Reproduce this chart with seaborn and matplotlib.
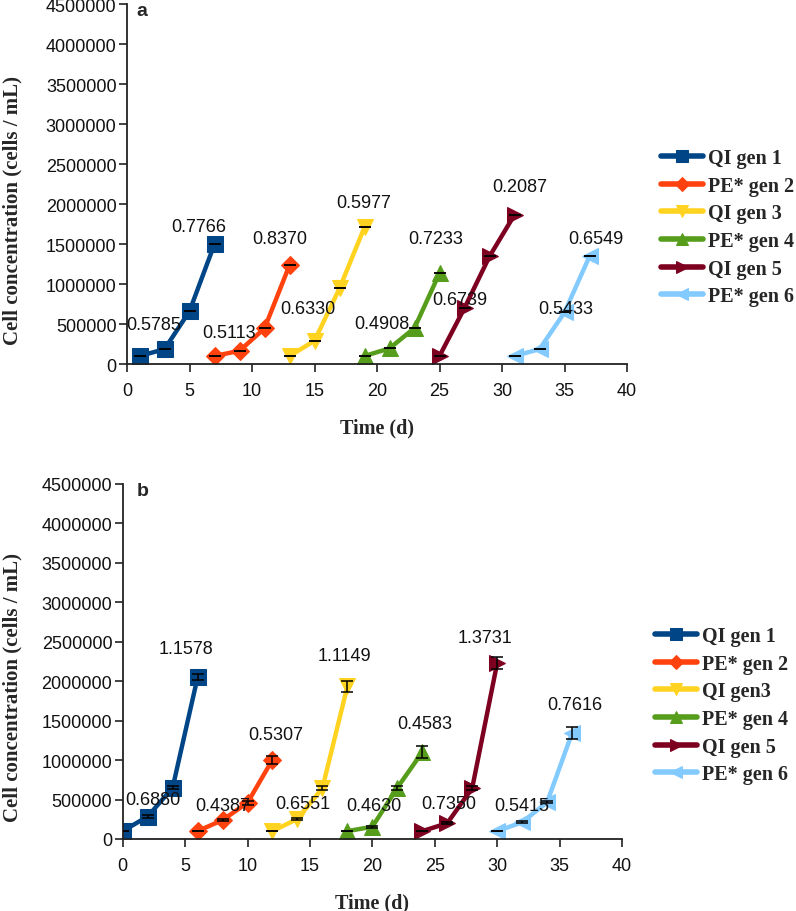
import matplotlib
matplotlib.use("Agg")
import matplotlib.pyplot as plt
import seaborn as sns
import numpy as np
import pandas as pd
from matplotlib.ticker import FuncFormatter, MultipleLocator

sns.set_theme(style="ticks")
plt.rcParams['font.family'] = ['Liberation Sans', 'DejaVu Sans']

# ---------------- data ----------------
colors = ["#004586", "#ff420e", "#ffd320", "#579d1c", "#7e0021", "#83caff"]
markers = ["s", "D", "v", "^", ">", "<"]
marker_sizes = [11, 9, 11, 11, 11, 11]

names_a = ["QI gen 1", "PE* gen 2", "QI gen 3", "PE* gen 4", "QI gen 5", "PE* gen 6"]
days_a = [[1, 3, 5, 7], [7, 9, 11, 13], [13, 15, 17, 19],
          [19, 21, 23, 25], [25, 27, 29, 31], [31, 33, 35, 37]]
conc_a = [[100000, 185000, 660000, 1500000],
          [100000, 165000, 445000, 1235000],
          [100000, 290000, 945000, 1710000],
          [100000, 195000, 450000, 1135000],
          [100000, 700000, 1345000, 1865000],
          [100000, 185000, 645000, 1345000]]
err_a = [[0, 0, 0, 0]] * 6
rates_a = ["0.5785", "0.7766", "0.5113", "0.8370", "0.6330", "0.5977",
           "0.4908", "0.7233", "0.6739", "0.2087", "0.5433", "0.6549"]
rate_x_a = [2.1, 5.7, 8.2, 12.2, 14.5, 18.9, 20.4, 24.7, 26.6, 31.4, 35.1, 37.5]
rate_y_a = [500000, 1725000, 400000, 1575000, 690000, 2025000,
            510000, 1575000, 810000, 2225000, 700000, 1575000]

names_b = ["QI gen 1", "PE* gen 2", "QI gen3", "PE* gen 4", "QI gen 5", "PE* gen 6"]
days_b = [[0, 2, 4, 6], [6, 8, 10, 12], [12, 14, 16, 18],
          [18, 20, 22, 24], [24, 26, 28, 30], [30, 32, 34, 36]]
conc_b = [[100000, 285000, 650000, 2050000],
          [100000, 240000, 460000, 1005000],
          [100000, 255000, 645000, 1935000],
          [100000, 155000, 650000, 1100000],
          [100000, 200000, 645000, 2230000],
          [100000, 212000, 466000, 1343000]]
err_b = [[0, 15000, 22000, 40000],
         [0, 15000, 25000, 48000],
         [0, 15000, 30000, 68000],
         [0, 15000, 25000, 76000],
         [0, 10000, 30000, 78000],
         [0, 10000, 15000, 74000]]
rates_b = ["0.6880", "1.1578", "0.4387", "0.5307", "0.6551", "1.1149",
           "0.4630", "0.4583", "0.7350", "1.3731", "0.5415", "0.7616"]
rate_x_b = [2.4, 5.1, 8.0, 12.3, 14.4, 17.8, 20.1, 24.2, 26.1, 29.0, 32.0, 36.2]
rate_y_b = [495000, 2410000, 420000, 1330000, 445000, 2320000,
            420000, 1470000, 455000, 2550000, 420000, 1700000]

# ---------------- figure ----------------
W, H = 796, 912
fig = plt.figure(figsize=(W / 100, H / 100), dpi=100)
ax_a = fig.add_axes([127 / W, 1 - 365 / H, 500 / W, 360 / H])
ax_b = fig.add_axes([122.7 / W, 1 - 840 / H, 499.3 / W, 355 / H])

serif = ['Liberation Serif', 'DejaVu Serif']


def draw(ax, names, days, conc, err, rates, rx, ry, letter, letter_x, leg_xy):
    ax_w_px = ax.get_position().width * W
    ax_h_px = ax.get_position().height * H
    for i, name in enumerate(names):
        df = pd.DataFrame({"day": days[i], "conc": conc[i]})
        sns.lineplot(data=df, x="day", y="conc", ax=ax, color=colors[i],
                     marker=markers[i], markersize=marker_sizes[i], linewidth=3.2,
                     markeredgecolor=colors[i], label=name, sort=False)
        ax.errorbar(days[i], conc[i], yerr=err[i], fmt='none', ecolor='black',
                    elinewidth=1.1, capsize=4, capthick=1.1, zorder=5)
    for t, x, y in zip(rates, rx, ry):
        ax.text(x, y, t, ha='center', va='center', fontsize=13, color='#111111', zorder=6)
    ax.set_xlim(0, 40)
    ax.set_ylim(0, 4500000)
    ax.xaxis.set_major_locator(MultipleLocator(5))
    ax.yaxis.set_major_locator(MultipleLocator(500000))
    ax.yaxis.set_major_formatter(FuncFormatter(lambda v, p: f"{int(round(v))}"))
    ax.tick_params(axis='both', labelsize=13, direction='out', length=6, width=1.2,
                   colors='#222222', labelcolor='#111111')
    ax.tick_params(axis='x', pad=7)
    ax.tick_params(axis='y', pad=1.5)
    for s in ['top', 'right']:
        ax.spines[s].set_visible(False)
    for s in ['left', 'bottom']:
        ax.spines[s].set_color('#222222')
        ax.spines[s].set_linewidth(1.3)
    ax.set_xlabel("Time (d)", fontsize=14.5, family=serif, weight='bold')
    ax.xaxis.set_label_coords(0.5, -63 / ax_h_px)
    ax.xaxis.label.set_va('center')
    ax.set_ylabel("Cell concentration (cells / mL)", fontsize=15, family=serif, weight='bold')
    ax.yaxis.set_label_coords(-(ax.get_position().x0 * W - 12) / ax_w_px, 0.43)
    ax.yaxis.label.set_va('center')
    ax.yaxis.label.set_ha('center')
    ax.text(letter_x, 0.983, letter, transform=ax.transAxes, fontsize=14, fontweight='bold',
            ha='left', va='center')
    h, l = ax.get_legend_handles_labels()
    leg = ax.legend(h, l, loc='upper left', bbox_to_anchor=leg_xy,
                    bbox_transform=fig.transFigure, frameon=False,
                    prop=dict(family=serif, weight='bold', size=14.5),
                    handlelength=2.1, handletextpad=0.25, labelspacing=0.38,
                    borderpad=0, borderaxespad=0, markerscale=0.8)
    for line in leg.get_lines():
        line.set_linewidth(4)
    ax.grid(False)


draw(ax_a, names_a, days_a, conc_a, err_a, rates_a, rate_x_a, rate_y_a, "a", 0.018,
     (661 / W, 1 - 149 / H))
draw(ax_b, names_b, days_b, conc_b, err_b, rates_b, rate_x_b, rate_y_b, "b", 0.028,
     (655 / W, 1 - 627 / H))

fig.savefig("out.png", dpi=100)
